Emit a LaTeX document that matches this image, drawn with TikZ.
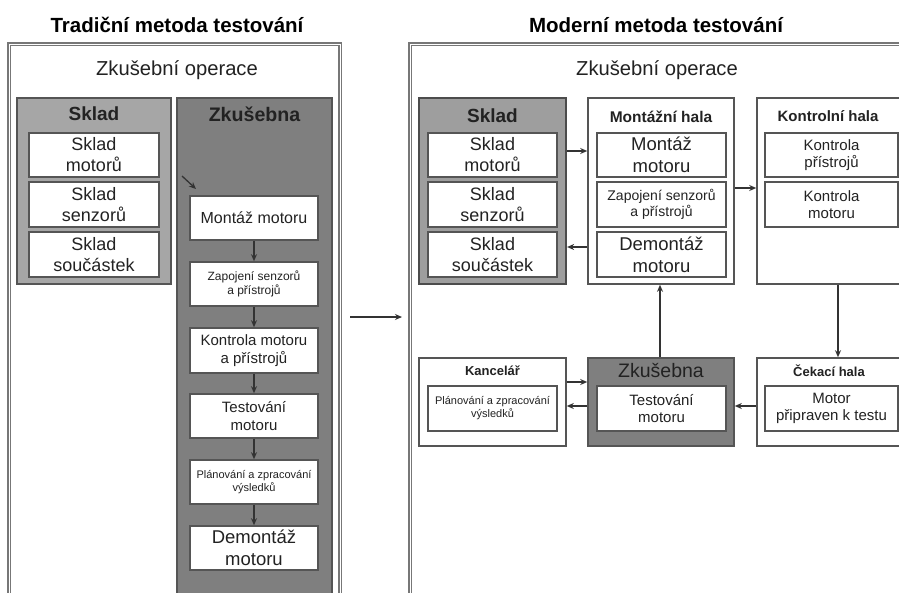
\documentclass[tikz,border=0pt]{standalone}
\usepackage{fontspec}
\setmainfont{Liberation Sans}
\usetikzlibrary{arrows.meta}
\definecolor{lgray}{HTML}{A6A6A6}
\definecolor{dgray}{HTML}{7F7F7F}
\definecolor{bord}{HTML}{555555}
\definecolor{txt}{HTML}{222222}
\newcommand{\fs}[1]{\fontsize{#1}{1.17\dimexpr #1pt\relax}\selectfont}
\tikzset{
  container/.style={draw=bord, line width=1.6pt, inner sep=0pt, minimum width=#1},
  outerbox/.style={draw=bord!80, line width=1.6pt, double=white, double distance=0.8pt, inner sep=0pt},
  inbox/.style={draw=bord, line width=1.6pt, fill=white, inner sep=0pt, align=center, text=txt},
  ttl/.style={inner sep=0pt, text=txt, align=center},
  arr/.style={draw=black!80, line width=1.3pt, -{Stealth[length=7pt,width=6pt]}},
}
\begin{document}
\begin{tikzpicture}[x=1pt,y=-1pt]
\useasboundingbox (0,0) rectangle (899,592);
\clip (0,0) rectangle (899,592);
\fill[white] (0,0) rectangle (899,592);

% ---------------- left panel ----------------
\node[ttl, font=\bfseries\fs{20.5}, text=black] (tL) at (177,25) {Tradiční metoda testování};
\node[outerbox, minimum width=331pt, minimum height=556pt] (outL) at (174.5,322) {};
\node[ttl, font=\fs{20.2}] (zoL) at (177,70) {Zkušební operace};

\node[container, fill=lgray, minimum width=154pt, minimum height=186pt] (sklL) at (94,191) {};
\node[ttl, font=\bfseries\fs{19}] (sklLt) at (94,114) {Sklad};
\node[inbox, font=\fs{18}, minimum width=130pt, minimum height=44pt] (sL1) at (94,155) {Sklad\\motorů};
\node[inbox, font=\fs{18}, minimum width=130pt, minimum height=45pt] (sL2) at (94,204.5) {Sklad\\senzorů};
\node[inbox, font=\fs{18}, minimum width=130pt, minimum height=45pt] (sL3) at (94,254.5) {Sklad\\součástek};

\node[container, fill=dgray, minimum width=155pt, minimum height=510pt] (zkL) at (254.5,353) {};
\node[ttl, font=\bfseries\fs{19.6}] (zkLt) at (254.5,114) {Zkušebna};
\node[inbox, font=\fs{16}, minimum width=128pt, minimum height=44pt] (b1) at (254,218) {Montáž motoru};
\node[inbox, font=\fs{12}, minimum width=128pt, minimum height=44pt] (b2) at (254,284) {Zapojení senzorů\\a přístrojů};
\node[inbox, font=\fs{15}, minimum width=128pt, minimum height=45pt] (b3) at (254,350.5) {Kontrola motoru\\a přístrojů};
\node[inbox, font=\fs{15}, minimum width=128pt, minimum height=44pt] (b4) at (254,416) {Testování\\motoru};
\node[inbox, font=\fs{11}, minimum width=128pt, minimum height=44pt] (b5) at (254,482) {Plánování a zpracování\\výsledků};
\node[inbox, font=\fs{18.5}, minimum width=128pt, minimum height=44pt] (b6) at (254,548) {Demontáž\\motoru};
\draw[arr] (b1) -- (b2);
\draw[arr] (b2) -- (b3);
\draw[arr] (b3) -- (b4);
\draw[arr] (b4) -- (b5);
\draw[arr] (b5) -- (b6);
\coordinate (s1) at (182,176);
\coordinate (s2) at (196,189);
\draw[arr] (s1) -- (s2);

% middle arrow
\coordinate (m1) at (350,317);
\coordinate (m2) at (402,317);
\draw[arr] (m1) -- (m2);

% ---------------- right panel ----------------
\node[ttl, font=\bfseries\fs{20.5}, text=black] (tR) at (656,25) {Moderní metoda testování};
\node[outerbox, minimum width=520pt, minimum height=556pt] (outR) at (670,322) {};
\node[ttl, font=\fs{20.2}] (zoR) at (657,70) {Zkušební operace};

% Sklad
\node[container, draw=bord!90!black, line width=2.2pt, fill=lgray!95!black, minimum width=147pt, minimum height=186pt] (sklR) at (492.5,191) {};
\node[ttl, font=\bfseries\fs{19}] (sklRt) at (492.5,116) {Sklad};
\node[inbox, font=\fs{18}, minimum width=129pt, minimum height=44pt] (sR1) at (492.5,155) {Sklad\\motorů};
\node[inbox, font=\fs{18}, minimum width=129pt, minimum height=45pt] (sR2) at (492.5,204.5) {Sklad\\senzorů};
\node[inbox, font=\fs{18}, minimum width=129pt, minimum height=45pt] (sR3) at (492.5,254.5) {Sklad\\součástek};

% Montazni hala
\node[container, fill=white, minimum width=146pt, minimum height=186pt] (monR) at (661,191) {};
\node[ttl, font=\bfseries\fs{15.5}] (monRt) at (661,117) {Montážní hala};
\node[inbox, font=\fs{18.5}, minimum width=129pt, minimum height=44pt] (mR1) at (661.5,155) {Montáž\\motoru};
\node[inbox, font=\fs{14}, minimum width=129pt, minimum height=45pt] (mR2) at (661.5,204.5) {Zapojení senzorů\\a přístrojů};
\node[inbox, font=\fs{18.5}, minimum width=129pt, minimum height=45pt] (mR3) at (661.5,254.5) {Demontáž\\motoru};

% Kontrolni hala
\node[container, fill=white, minimum width=149pt, minimum height=186pt] (konR) at (831.5,191) {};
\node[ttl, font=\bfseries\fs{15}] (konRt) at (828,116) {Kontrolní hala};
\node[inbox, font=\fs{15}, minimum width=133pt, minimum height=44pt] (kR1) at (831.5,155) {Kontrola\\přístrojů};
\node[inbox, font=\fs{15}, minimum width=133pt, minimum height=45pt] (kR2) at (831.5,204.5) {Kontrola\\motoru};

% Kancelar
\node[container, fill=white, minimum width=147pt, minimum height=88pt] (kanR) at (492.5,402) {};
\node[ttl, font=\bfseries\fs{13}] (kanRt) at (492.5,371) {Kancelář};
\node[inbox, font=\fs{11}, minimum width=129pt, minimum height=45pt] (kaR1) at (492.5,408.5) {Plánování a zpracování\\výsledků};

% Zkusebna
\node[container, fill=dgray, minimum width=146pt, minimum height=88pt] (zkR) at (661,402) {};
\node[ttl, font=\fs{19.5}] (zkRt) at (661,370) {Zkušebna};
\node[inbox, font=\fs{15}, minimum width=129pt, minimum height=45pt] (zR1) at (661.5,408.5) {Testování\\motoru};

% Cekaci hala
\node[container, fill=white, minimum width=149pt, minimum height=88pt] (cekR) at (831.5,402) {};
\node[ttl, font=\bfseries\fs{13}] (cekRt) at (829,371) {Čekací hala};
\node[inbox, font=\fs{15}, minimum width=133pt, minimum height=45pt] (cR1) at (831.5,408.5) {Motor\\připraven k testu};

% arrows right
\draw[arr] (sklR.east |- 0,151) -- (monR.west |- 0,151);
\draw[arr] (monR.west |- 0,247) -- (sklR.east |- 0,247);
\draw[arr] (monR.east |- 0,188) -- (konR.west |- 0,188);
\draw[arr] (konR.south -| 838,0) -- (cekR.north -| 838,0);
\draw[arr] (cekR.west |- 0,406) -- (zkR.east |- 0,406);
\draw[arr] (zkR.north -| 660,0) -- (monR.south -| 660,0);
\draw[arr] (kanR.east |- 0,382) -- (zkR.west |- 0,382);
\draw[arr] (zkR.west |- 0,406) -- (kanR.east |- 0,406);
\end{tikzpicture}
\end{document}
